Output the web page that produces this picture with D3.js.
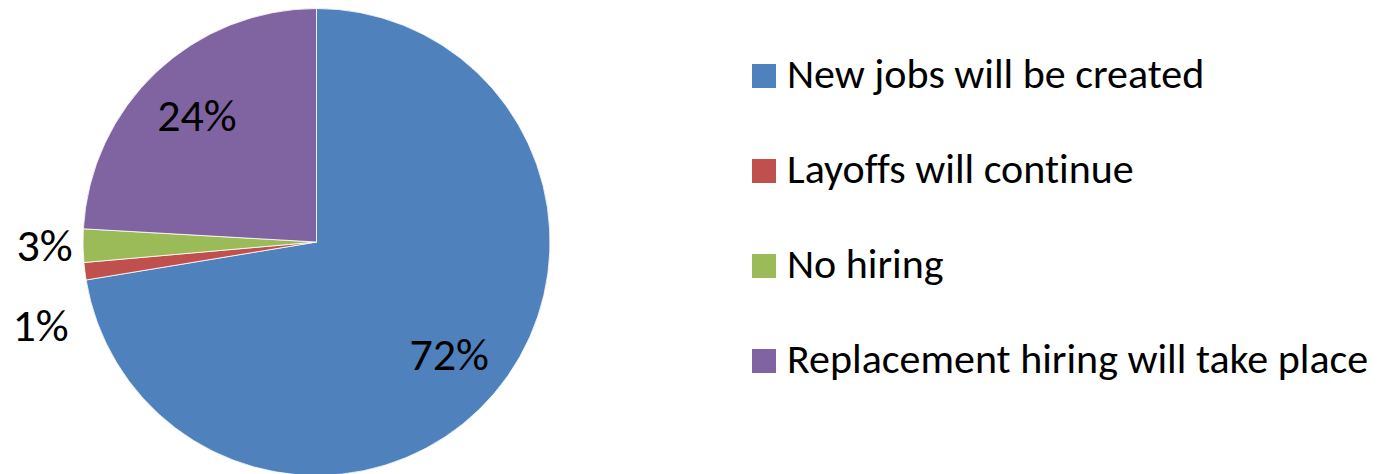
<!DOCTYPE html>
<html>
<head>
<meta charset="utf-8">
<script src="https://cdn.jsdelivr.net/npm/d3@7"></script>
<style>
  html, body { margin: 0; padding: 0; background: #ffffff; }
  svg { display: block; }
  text { font-family: Carlito, Calibri, Lato, sans-serif; fill: #000; font-variant-ligatures: none; }
</style>
</head>
<body>
<svg id="chart" width="1387" height="474"></svg>
<script>
// ---- data ----
const categories = ["New jobs will be created", "Layoffs will continue", "No hiring", "Replacement hiring will take place"];
const values = [72.4, 1.2, 2.3, 24.1];
const percentLabels = ["72%", "1%", "3%", "24%"];
const colors = ["#4F81BD", "#C0504D", "#9BBB59", "#8064A2"];

// ---- layout ----
const W = 1387, H = 474;
const cx = 316.5, cy = 242, R = 233.5;
const svg = d3.select("#chart");

const pie = d3.pie().sort(null).value(d => d.value);
const data = categories.map((c, i) => ({ name: c, value: values[i], label: percentLabels[i], color: colors[i] }));
const arcs = pie(data);

const arc = d3.arc().innerRadius(0).outerRadius(R);
const inLabelArc = d3.arc().innerRadius(174).outerRadius(174);
const outLabelArc = d3.arc().innerRadius(272).outerRadius(272);

const g = svg.append("g").attr("transform", `translate(${cx},${cy})`);
g.selectAll("path.slice")
  .data(arcs)
  .enter().append("path")
  .attr("class", "slice")
  .attr("d", arc)
  .attr("fill", d => d.data.color)
  .attr("stroke", "#ffffff")
  .attr("stroke-width", 0.8);

// labels: inside for big slices, outside for small ones with collision nudge
const labelFont = 46;
const placed = [];
arcs.forEach(a => {
  const frac = (a.endAngle - a.startAngle) / (2 * Math.PI);
  const inside = frac > 0.1;
  const pos = inside ? inLabelArc.centroid(a) : outLabelArc.centroid(a);
  placed.push({ a, pos, inside });
});
const outs = placed.filter(p => !p.inside).sort((p, q) => p.pos[1] - q.pos[1]);
const minGap = 80;
for (let i = 1; i < outs.length; i++) {
  if (outs[i].pos[1] - outs[i - 1].pos[1] < minGap) {
    outs[i].pos = [outs[i].pos[0] - 6, outs[i - 1].pos[1] + minGap];
  }
}
g.selectAll("text.pct")
  .data(placed)
  .enter().append("text")
  .attr("class", "pct")
  .attr("x", d => d.pos[0])
  .attr("y", d => d.pos[1])
  .attr("text-anchor", "middle")
  .attr("dy", "0.33em")
  .style("font-size", labelFont + "px")
  .text(d => d.a.data.label);

// legend
const legendX = 752, legendY = 64, rowGap = 95, sw = 24;
const leg = svg.append("g").attr("transform", `translate(${legendX},${legendY})`);
const rows = leg.selectAll("g.row")
  .data(data)
  .enter().append("g")
  .attr("class", "row")
  .attr("transform", (d, i) => `translate(0,${i * rowGap})`);
rows.append("rect")
  .attr("width", sw).attr("height", sw)
  .attr("fill", d => d.color);
rows.append("text")
  .attr("x", 35)
  .attr("y", sw)
  .style("font-size", "42px")
  .text(d => d.name);
</script>
</body>
</html>
